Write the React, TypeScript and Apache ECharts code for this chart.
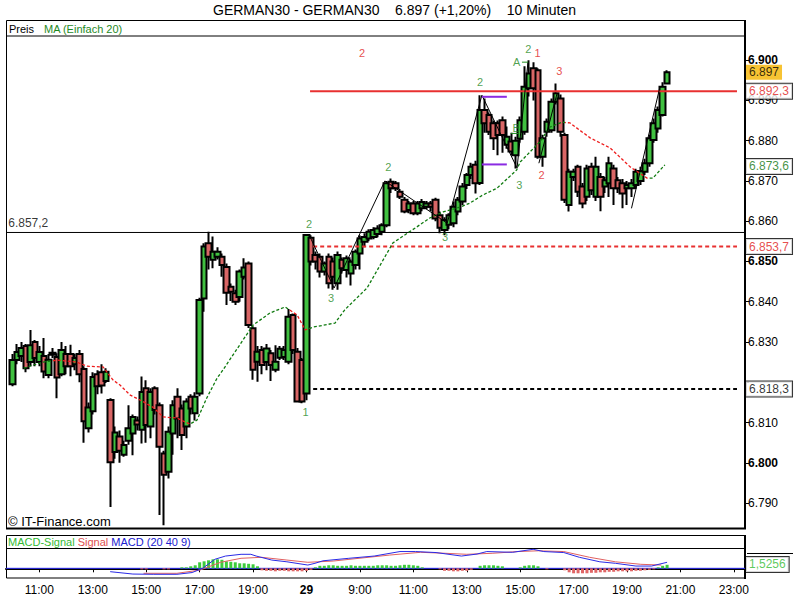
import React, { useEffect, useRef } from "react";
import * as echarts from "echarts";

const FONT = '"Liberation Sans", Arial, sans-serif';

// ---- candles: [open, close, low, high], first candle at slot FIRST_T (10-minute slots)
const FIRST_T = 6;
const CANDLES: number[][] = [
  [6819.5, 6825.5, 6819, 6827], [6825.5, 6827.5, 6824.5, 6829.5], [6826.5, 6828.5, 6825, 6830],
  [6829, 6823.5, 6822.5, 6829.5], [6825, 6829.2, 6824, 6833], [6830, 6826, 6824, 6830.5],
  [6825, 6827.5, 6824, 6829], [6826.5, 6822.7, 6821, 6831], [6821.8, 6825.6, 6821, 6827],
  [6826.8, 6827.3, 6826, 6828.5], [6826.3, 6821.2, 6816, 6827.2], [6822, 6828, 6821.5, 6830],
  [6827, 6824, 6822, 6829], [6827, 6824, 6821.5, 6829.3], [6824.5, 6826, 6823, 6827],
  [6827, 6822, 6820, 6828], [6823.3, 6810.3, 6805, 6824], [6808.6, 6813.7, 6807.5, 6815],
  [6812.8, 6821.3, 6812, 6822.5], [6822, 6819, 6817, 6823], [6822.5, 6819.2, 6817.2, 6824.5],
  [6820.3, 6822.6, 6819.8, 6823.5], [6815.6, 6800.1, 6789, 6816], [6802.7, 6807.5, 6801, 6809],
  [6806.5, 6803, 6800, 6808], [6802, 6804.4, 6801.5, 6805.5], [6805.5, 6808.6, 6804.5, 6814.3],
  [6807.3, 6811.4, 6801.9, 6812], [6810.5, 6809.5, 6808, 6811.5], [6808.2, 6817.6, 6804.8, 6821.4],
  [6818.5, 6809.4, 6805, 6820.5], [6809, 6817.6, 6806.1, 6818.5], [6818.5, 6813.1, 6812, 6819],
  [6814.3, 6804, 6787, 6815], [6802.3, 6797, 6784.5, 6803], [6797.8, 6807.7, 6796.1, 6809],
  [6807.3, 6814.3, 6802, 6815.5], [6816.4, 6811, 6806.1, 6818.5], [6813.5, 6806.9, 6803.2, 6814.5],
  [6809, 6815.2, 6806.1, 6816], [6816.4, 6813.5, 6812, 6817], [6812.3, 6816.4, 6810.5, 6817.5],
  [6817.2, 6840.4, 6816.5, 6841], [6840.8, 6853.7, 6837.5, 6854.5], [6854.5, 6851.2, 6848, 6857.4],
  [6850.4, 6852.4, 6848.3, 6856.2], [6851.2, 6852.4, 6850.5, 6853.5], [6851.2, 6849.1, 6846.2, 6852],
  [6848.6, 6842.2, 6839.2, 6849.5], [6843.7, 6842.5, 6840.2, 6844.5], [6842.1, 6840, 6839.2, 6843],
  [6841.2, 6847.5, 6840, 6848], [6846.2, 6848.5, 6845.5, 6850.8], [6849.5, 6834.2, 6833.5, 6850],
  [6833.4, 6823.1, 6820.6, 6834], [6825.1, 6827.6, 6820.1, 6829], [6828, 6824.3, 6822, 6829],
  [6825, 6828.4, 6823, 6829.5], [6827.2, 6824.3, 6820.3, 6828], [6823.1, 6825.1, 6822.5, 6829.2],
  [6826.1, 6828.3, 6825.5, 6829], [6826.3, 6828, 6825.5, 6829], [6825.1, 6836.3, 6824.5, 6838.2],
  [6836.7, 6828, 6827, 6837.1], [6827.6, 6815.2, 6815, 6828.5], [6825.5, 6815.2, 6814.8, 6826],
  [6817.2, 6856.6, 6815.5, 6856.8], [6855.9, 6850, 6849, 6856.5], [6851.6, 6850, 6848, 6852.5],
  [6851.2, 6847.5, 6846, 6852], [6847.5, 6849.5, 6846.5, 6850], [6851.2, 6844.6, 6843.3, 6852],
  [6850, 6846.2, 6843, 6851], [6844.6, 6851.6, 6843, 6852.5], [6850.4, 6848.3, 6847, 6851],
  [6847.9, 6850.8, 6846, 6851.5], [6847, 6849.9, 6844, 6850.5], [6849.1, 6852.4, 6848, 6853],
  [6852, 6855.7, 6848, 6856.5], [6854.9, 6856.1, 6853.5, 6857], [6855.7, 6857.4, 6855, 6858],
  [6856.1, 6857.8, 6855.5, 6858.5], [6856.8, 6858.2, 6856, 6859], [6857.4, 6859, 6856.5, 6859.5],
  [6859, 6869.4, 6858.5, 6870], [6869.8, 6868.2, 6867, 6870.6], [6869.4, 6868.2, 6867.5, 6870],
  [6867.3, 6866.1, 6865.5, 6868], [6865.3, 6862.4, 6862, 6866], [6862.8, 6864.4, 6862, 6865],
  [6864.4, 6862, 6861.5, 6865], [6862, 6864.4, 6861.5, 6865], [6863.2, 6864.8, 6862.5, 6865.5],
  [6863.6, 6864.4, 6863, 6865], [6864.4, 6863.6, 6862.5, 6865], [6865.3, 6860.7, 6860, 6865.8],
  [6861.5, 6858.4, 6857, 6862.4], [6857.8, 6860.3, 6856.5, 6861], [6859.1, 6861.5, 6858, 6862],
  [6859.5, 6863.6, 6858.5, 6864.9], [6862.4, 6865.3, 6861.5, 6866], [6864.9, 6868.6, 6864, 6869.5],
  [6869, 6871.5, 6868, 6872], [6871.5, 6873.5, 6870.5, 6874.5], [6874, 6869.4, 6866.9, 6875],
  [6869.5, 6887.6, 6869, 6891.3], [6887.6, 6884.3, 6882, 6890.5], [6886.4, 6882.2, 6881.4, 6887],
  [6884.3, 6880.6, 6877.7, 6885], [6884.3, 6881.4, 6876.4, 6885], [6885.1, 6881.4, 6877, 6886],
  [6879, 6881, 6878, 6883.5], [6879.8, 6877.3, 6876.4, 6882], [6876.4, 6880, 6873.1, 6881],
  [6880.5, 6885.1, 6879.5, 6886], [6882.2, 6893.4, 6881.5, 6898.5], [6893, 6896.7, 6891, 6900],
  [6898, 6893, 6890, 6899.5], [6897.5, 6876, 6875.5, 6898], [6876, 6880.6, 6873.5, 6881.5],
  [6882.2, 6884.7, 6881, 6885.5], [6882.6, 6889.7, 6882, 6890.5], [6889.7, 6891.8, 6889, 6894.2],
  [6890.5, 6882.2, 6881, 6891.5], [6881.4, 6865.3, 6864.5, 6882], [6864, 6872.3, 6862.4, 6873],
  [6871, 6872.3, 6870, 6873], [6873.5, 6867.3, 6866, 6874], [6868.6, 6864.4, 6863.2, 6869.5],
  [6866.1, 6873.1, 6865, 6874], [6873.5, 6867.7, 6866.5, 6874.5], [6866.1, 6873.5, 6865, 6876],
  [6871, 6866.1, 6862.5, 6872], [6868.6, 6870.2, 6867, 6871], [6869.4, 6874.4, 6866, 6876],
  [6873.1, 6868.2, 6864, 6874], [6870.2, 6868.2, 6867, 6871], [6869.4, 6866.9, 6863.2, 6870.5],
  [6868.2, 6869, 6864, 6870], [6868.2, 6869.4, 6866, 6870.5], [6869, 6872.3, 6868, 6873],
  [6870, 6872.5, 6869, 6873.5], [6872.3, 6874.4, 6871.5, 6875.5], [6874.4, 6880.6, 6873.5, 6881.5],
  [6880.2, 6884.3, 6879.5, 6885.5], [6883, 6887.6, 6882, 6888.5], [6886.4, 6893.4, 6886, 6894.5],
  [6894.2, 6897, 6894, 6897.5],
];

// ---- axes
const CAT_FIRST = 5;
const CAT_LAST = 170;
const X_MIN = 4.5;
const X_MAX = 170.5;
const TIME_LABELS: Record<number, string> = {
  12: "11:00", 24: "13:00", 36: "15:00", 48: "17:00", 60: "19:00", 72: "29", 84: "9:00",
  96: "11:00", 108: "13:00", 120: "15:00", 132: "17:00", 144: "19:00", 156: "21:00", 168: "23:00",
};
const DAY_T = 72;
const PRICE_TICKS = [6790, 6800, 6810, 6820, 6830, 6840, 6850, 6860, 6870, 6880, 6890, 6900];
// 6.820 is covered by the 6.818,3 box in the reference
const PRICE_LABELS = [6790, 6800, 6810, 6830, 6840, 6850, 6860, 6870, 6880, 6890, 6900];
const Y_MIN = 6783.8;
const Y_MAX = 6906;

// ---- MA (Einfach 20), read as [slot, value]
const MA_POINTS = [
  [8.5, 6823.5], [12.8, 6825.0], [16, 6825.5], [20.4, 6825.0], [22.7, 6824.0], [26.3, 6823.8],
  [28.5, 6820.6], [30.1, 6819.3], [32.4, 6816.8], [34.6, 6815.6], [37.5, 6813.8], [39.8, 6811.4],
  [42.9, 6811.1], [45.8, 6809.6], [47.4, 6810.6], [49.6, 6816.1], [51.9, 6821.0], [53.2, 6823.0],
  [55.5, 6826.8], [60, 6834.2], [63.8, 6837.2], [67.2, 6838.7], [69.9, 6836.7], [71.7, 6833.0],
  [73.5, 6833.7], [78.4, 6834.7], [80.6, 6838.0], [85.6, 6843.4], [91.4, 6854.6], [96.8, 6858.6],
  [99.7, 6860.8], [102.7, 6862.3], [106.5, 6863.5], [108.7, 6864.5], [111.6, 6866.5], [114.8, 6868.2],
  [119.2, 6872.7], [120, 6874.7], [124.4, 6879.7], [126.7, 6883.4], [129.4, 6884.6], [131.2, 6884.4],
  [135.7, 6880.7], [140.2, 6878.2], [144.7, 6873.5], [148.5, 6870.7], [149.8, 6870.7], [152.5, 6874.0],
];
const MA_FALLING = [[15, 46], [68, 72.5], [130, 149]];

// ---- levels
const PREV_CLOSE = 6857.2;
const LAST_PRICE = 6897;
const LAST_MA = 6873.6;
const RESISTANCE = 6892.3;
const SUPPORT_RED = 6853.7;
const SUPPORT_BLACK = 6818.3;
const LEVEL_START_RES = 72.8;
const LEVEL_START_SUP = 73.5;
const LEVEL_END = 168.7;

// ---- wave drawings
const ZIGZAG_MAIN = [[72.8, 6856.1], [78.2, 6843.4], [89.6, 6870.0], [103.6, 6859.5], [111.4, 6891.3], [119.3, 6873.2], [121.75, 6899.5]];
const ZIGZAG_RED = [[124.2, 6874.4], [128.3, 6891.8]];
const ZIGZAG_LAST = [[145.0, 6863.2], [151.4, 6893.4]];
const CHANNEL_TOP = [[111.4, 6890.9], [117, 6890.9]];
const CHANNEL_BOTTOM = [[111.4, 6874.1], [117, 6874.1]];
const A_MARK = [[120.4, 6899.5], [121.8, 6899.5]];
const B_MARK = [[117.9, 6881.8], [119.6, 6881.8]];
const WAVE_LABELS = [
  { t: 71.8, v: 6812.7, text: "1", c: "g" }, { t: 72.6, v: 6859.3, text: "2", c: "g" },
  { t: 77.5, v: 6840.9, text: "3", c: "g" }, { t: 90.4, v: 6873.5, text: "2", c: "g" },
  { t: 103.1, v: 6856.1, text: "3", c: "g" }, { t: 111, v: 6894.5, text: "2", c: "g" },
  { t: 119.8, v: 6869.0, text: "3", c: "g" }, { t: 121.8, v: 6902.7, text: "2", c: "g" },
  { t: 119.2, v: 6899.6, text: "A", c: "g" }, { t: 119.1, v: 6883.1, text: "B", c: "g" },
  { t: 84.5, v: 6901.9, text: "2", c: "r" }, { t: 123.9, v: 6901.9, text: "1", c: "r" },
  { t: 124.8, v: 6871.6, text: "2", c: "r" }, { t: 128.8, v: 6897.4, text: "3", c: "r" },
];

// ---- MACD (20 40 9)
const MACD_LINE = [
  [27.9, -1.35], [33.0, -2.3], [37.7, -2.4], [42.9, -2.4], [46.3, -1.7], [48.7, 0], [51.4, 3.6],
  [53.8, 4.9], [57.3, 5.6], [59.5, 5.6], [60.7, 4.9], [64.2, 3.3], [67.6, 2.6], [72.3, 1.3],
  [73.9, 2.0], [75.7, 3.0], [81.5, 4.0], [87.2, 4.9], [93.0, 6.7], [96.5, 6.7], [101.1, 6.3],
  [106.8, 4.9], [110.3, 5.7], [112.5, 6.7], [118.3, 6.4], [122.9, 7.6], [125.3, 6.7], [129.8, 6.3],
  [133.3, 4.4], [137.9, 2.6], [141.4, 2.0], [146.0, 0.9], [149.5, 0.9], [153, 2.4],
];
const SIGNAL_LINE = [
  [35.4, -2.0], [42.9, -2.0], [48.1, -0.7], [52.7, 2.4], [57.3, 4.0], [61.9, 4.4], [67.6, 3.3],
  [72.3, 2.4], [78.0, 2.9], [83.8, 4.0], [90.7, 5.3], [97.6, 6.4], [103.3, 6.0], [108.0, 5.6],
  [113.7, 6.0], [119.5, 6.7], [124.1, 7.0], [129.8, 6.7], [135.6, 4.4], [141.4, 2.6], [147.1, 1.6],
  [151.7, 1.3],
];
const HIST_FIRST_T = 28;
const HIST = [
  0, 0, 0, 0, 0, 0, 0,
  -0.4, -0.4, 0, 0, 0, -0.4, -0.4, 0, 0, 0.4,
  0.4, 0.8, 1.2, 2.4, 2.8, 3.2, 3.6, 3.6, 3.4, 2.8, 2.6, 2.4, 2.0, 2.0, 1.8, 1.6, 0.8,
  -0.8, -1.0, -1.0, -1.2, -1.0, -1.0, -1.2, -1.2, -1.2, -1.2, -1.0, -0.6, 0.4,
  1.0, 1.0, 1.2, 1.2, 1.0, 1.0, 1.0, 1.2, 1.0, 1.0, 1.0, 1.0, 1.0, 1.2, 1.2, 1.2, 1.0, 1.0, 1.2, 1.4, 1.4, 1.2, 1.0,
  0.4, 0, 0, 0, -0.4, -1.0, -1.0, -1.2, -1.2, -1.0, -1.0, -0.6, 0,
  1.0, 1.2, 1.2, 1.2, 1.0, 0.8, 0, 0, 0, 0.4, 1.0, 1.2, 1.2, 0.8, 0, -0.4, 0, 0, 0, -0.8,
  -1.6, -2.0, -2.0, -2.0, -2.0, -1.8, -1.8, -1.6, -1.6, -1.4, -1.4, -1.2, -1.2, -1.2, -1.2, -1.0, -1.0, -0.8, -0.6, -0.4, 0.4, 1.0, 1.4,
];
const MACD_HIST_LAST = 1.5256;
const MACD_MIN = -3.88;
const MACD_MAX = 8.12;

// ---- colours
const UP = "#40c040";
const DOWN = "#d96666";
const TXT_GREEN = "#1f8a1f";
const TXT_RED = "#e02020";
const MA_GREEN = "#0f7a0f";
const MA_RED = "#ee1c1c";

const fmtTick = (v: number) => {
  const r = Math.round(v);
  return `${Math.floor(r / 1000)}.${String(r % 1000).padStart(3, "0")}`;
};
const fmtLevel = (v: number) => {
  const tenths = Math.round(v * 10);
  const ip = Math.floor(tenths / 10);
  const dec = tenths % 10;
  return `${Math.floor(ip / 1000)}.${String(ip % 1000).padStart(3, "0")}${dec ? "," + dec : ""}`;
};

function buildOption() {
  const cats: string[] = [];
  for (let t = CAT_FIRST; t <= CAT_LAST; t++) cats.push(String(t));
  const candleData = CANDLES.map((c, i) => [i + FIRST_T - CAT_FIRST, c[0], c[1], c[2], c[3]]);
  const histData = HIST.map((h, i) => [i + HIST_FIRST_T - CAT_FIRST, h]);
  const labelInterval = (index: number) => TIME_LABELS[index + CAT_FIRST] !== undefined;

  const pieces: any[] = [];
  let prev = -1000;
  MA_FALLING.forEach(([a, b]) => {
    pieces.push({ gte: prev, lt: a, color: MA_GREEN });
    pieces.push({ gte: a, lt: b, color: MA_RED });
    prev = b;
  });
  pieces.push({ gte: prev, lt: 1000, color: MA_GREEN });

  const valLine = (data: number[][], color: string, width: number, type: any = "solid", z = 4) => ({
    type: "line", xAxisIndex: 1, yAxisIndex: 0, data, symbol: "none", silent: true, z,
    lineStyle: { color, width, type }, emphasis: { disabled: true },
  });

  const boxLabel = (value: number, text: string, color: string, bg: string, border: string | null) => ({
    value: [LEVEL_END, value],
    label: {
      show: true, position: "right", distance: 9, formatter: text, color, fontSize: 12, fontFamily: FONT,
      backgroundColor: bg, borderColor: border || bg, borderWidth: border ? 1 : 0, padding: [2, 3, 1, 3],
    },
  });

  const series: any[] = [
    {
      type: "candlestick", xAxisIndex: 0, yAxisIndex: 0, data: candleData, encode: { x: 0, y: [1, 2, 3, 4] },
      barWidth: 6, z: 3,
      itemStyle: { color: UP, color0: DOWN, borderColor: "#000", borderColor0: "#000", borderWidth: 2 },
      emphasis: { disabled: true },
    },
    {
      type: "line", xAxisIndex: 1, yAxisIndex: 0, data: MA_POINTS, symbol: "none", z: 5, silent: true,
      lineStyle: { width: 1.3, type: [3, 2] },
    },
    valLine([[X_MIN, PREV_CLOSE], [X_MAX, PREV_CLOSE]], "#000", 1, "solid", 2),
    valLine([[LEVEL_START_RES, RESISTANCE], [LEVEL_END, RESISTANCE]], "#e83030", 2),
    valLine([[LEVEL_START_SUP, SUPPORT_RED], [LEVEL_END, SUPPORT_RED]], "#e83030", 2, [4, 3]),
    valLine([[LEVEL_START_SUP, SUPPORT_BLACK], [LEVEL_END, SUPPORT_BLACK]], "#000", 2, [4, 3]),
    valLine(ZIGZAG_MAIN, "#000", 1, "solid", 6),
    valLine(ZIGZAG_RED, "#000", 1, "solid", 6),
    valLine(ZIGZAG_LAST, "#000", 1, "solid", 6),
    valLine(CHANNEL_TOP, "#8a2be2", 2, "solid", 6),
    valLine(CHANNEL_BOTTOM, "#8a2be2", 2, "solid", 6),
    valLine(A_MARK, TXT_GREEN, 1, "solid", 6),
    valLine(B_MARK, TXT_GREEN, 1, "solid", 6),
    {
      type: "scatter", xAxisIndex: 1, yAxisIndex: 0, symbolSize: 0, silent: true, z: 7,
      data: WAVE_LABELS.map((w) => ({
        value: [w.t, w.v],
        label: { show: true, position: "inside", formatter: w.text, color: w.c === "g" ? TXT_GREEN : TXT_RED, fontSize: 11, fontFamily: FONT },
      })),
    },
    {
      type: "scatter", xAxisIndex: 1, yAxisIndex: 0, symbolSize: 0, silent: true, z: 7,
      data: [{
        value: [X_MIN + 0.5, PREV_CLOSE],
        label: { show: true, position: [0, -15], align: "left", formatter: fmtLevel(PREV_CLOSE), color: "#000", fontSize: 12, fontFamily: FONT },
      }],
    },
    {
      type: "scatter", xAxisIndex: 1, yAxisIndex: 0, symbolSize: 0, silent: true, z: 10,
      data: [
        boxLabel(LAST_PRICE, fmtLevel(LAST_PRICE), "#000", "#f5b400", null),
        boxLabel(RESISTANCE, fmtLevel(RESISTANCE), TXT_RED, "#fff", "#000"),
        boxLabel(LAST_MA, fmtLevel(LAST_MA), "#117711", "#fff", "#000"),
        boxLabel(SUPPORT_RED, fmtLevel(SUPPORT_RED), TXT_RED, "#fff", "#000"),
        boxLabel(SUPPORT_BLACK, fmtLevel(SUPPORT_BLACK), "#000", "#fff", "#000"),
      ],
    },
    // MACD panel
    {
      type: "line", xAxisIndex: 3, yAxisIndex: 1, data: [[X_MIN, 0], [X_MAX, 0]], symbol: "none", silent: true,
      lineStyle: { color: "#3333ff", width: 1 }, z: 2,
    },
    {
      type: "bar", xAxisIndex: 2, yAxisIndex: 1, data: histData, barWidth: 3, silent: true, z: 3,
      itemStyle: { color: (p: any) => (p.value[1] >= 0 ? "#3ccc3c" : "#e06666") },
    },
    {
      type: "line", xAxisIndex: 3, yAxisIndex: 1, data: SIGNAL_LINE, symbol: "none", silent: true, z: 4,
      lineStyle: { color: "#e06060", width: 1 },
    },
    {
      type: "line", xAxisIndex: 3, yAxisIndex: 1, data: MACD_LINE, symbol: "none", silent: true, z: 5,
      lineStyle: { color: "#2a2ae6", width: 1 },
    },
    {
      type: "scatter", xAxisIndex: 3, yAxisIndex: 1, symbolSize: 0, silent: true, z: 10,
      data: [{
        value: [LEVEL_END, MACD_HIST_LAST],
        label: {
          show: true, position: "right", distance: 9, formatter: String(MACD_HIST_LAST).replace(".", ","),
          color: "#33bb33", fontSize: 12, fontFamily: FONT, backgroundColor: "#fff", borderColor: "#000", borderWidth: 1,
          padding: [2, 3, 1, 3],
        },
      }],
    },
  ];

  return {
    animation: false,
    backgroundColor: "#fff",
    textStyle: { fontFamily: FONT },
    grid: [
      { left: 6, right: 55, top: 36, height: 492 },
      { left: 6, right: 55, top: 548, height: 30 },
    ],
    xAxis: [
      { type: "category", gridIndex: 0, data: cats, show: false, boundaryGap: true },
      { type: "value", gridIndex: 0, min: X_MIN, max: X_MAX, show: false },
      {
        type: "category", gridIndex: 1, data: cats, boundaryGap: true,
        axisLine: { show: true, lineStyle: { color: "#000", width: 2 } },
        axisTick: { show: true, interval: labelInterval, alignWithLabel: true, length: 4, lineStyle: { color: "#000" } },
        axisLabel: {
          interval: labelInterval, color: "#000", fontSize: 12, fontFamily: FONT, margin: 6,
          formatter: (val: string) => (Number(val) === DAY_T ? `{b|${TIME_LABELS[DAY_T]}}` : TIME_LABELS[Number(val)]),
          rich: { b: { fontWeight: "bold", fontSize: 12, fontFamily: FONT, color: "#000" } },
        },
        splitLine: { show: false },
      },
      { type: "value", gridIndex: 1, min: X_MIN, max: X_MAX, show: false },
    ],
    yAxis: [
      {
        type: "value", gridIndex: 0, position: "right", min: Y_MIN, max: Y_MAX, scale: true,
        axisLine: { show: true, lineStyle: { color: "#000", width: 2 } },
        axisTick: { show: true, customValues: PRICE_TICKS, length: 4, lineStyle: { color: "#000" } },
        axisLabel: {
          customValues: PRICE_LABELS, color: "#000", fontSize: 12, fontFamily: FONT, margin: 3,
          formatter: (v: number) => (Math.round(v) % 50 === 0 ? `{b|${fmtTick(v)}}` : fmtTick(v)),
          rich: { b: { fontWeight: "bold", fontSize: 12, fontFamily: FONT, color: "#000" } },
        },
        splitLine: { show: false },
      },
      { type: "value", gridIndex: 1, min: MACD_MIN, max: MACD_MAX, show: false },
    ],
    visualMap: [{ type: "piecewise", show: false, dimension: 0, seriesIndex: 1, pieces }],
    series,
    graphic: [
      { type: "text", x: 213, y: 10, style: { text: "GERMAN30 - GERMAN30    6.897 (+1,20%)    10 Minuten", font: `14px ${FONT}`, fill: "#000", verticalAlign: "middle" } },
      { type: "rect", shape: { x: 6.5, y: 20.5, width: 738.5, height: 15.5 }, style: { fill: "none", stroke: "#000", lineWidth: 1 } },
      { type: "text", x: 9, y: 28.5, style: { text: "Preis", font: `11px ${FONT}`, fill: "#000", verticalAlign: "middle" } },
      { type: "text", x: 44, y: 28.5, style: { text: "MA (Einfach 20)", font: `11px ${FONT}`, fill: TXT_GREEN, verticalAlign: "middle" } },
      { type: "line", shape: { x1: 6.5, y1: 36, x2: 6.5, y2: 529 }, style: { stroke: "#000", lineWidth: 1 } },
      { type: "line", shape: { x1: 6, y1: 528.5, x2: 746, y2: 528.5 }, style: { stroke: "#000", lineWidth: 2 } },
      { type: "line", shape: { x1: 745, y1: 20, x2: 745, y2: 37 }, style: { stroke: "#000", lineWidth: 2 } },
      { type: "text", x: 8, y: 521, style: { text: "© IT-Finance.com", font: `13px ${FONT}`, fill: "#000", verticalAlign: "middle" } },
      { type: "rect", shape: { x: 6.5, y: 535.5, width: 738.5, height: 42.5 }, style: { fill: "none", stroke: "#000", lineWidth: 1 } },
      { type: "line", shape: { x1: 6.5, y1: 548.5, x2: 745, y2: 548.5 }, style: { stroke: "#000", lineWidth: 1 } },
      { type: "line", shape: { x1: 745, y1: 535, x2: 745, y2: 579 }, style: { stroke: "#000", lineWidth: 2 } },
      { type: "line", shape: { x1: 747, y1: 553.5, x2: 793, y2: 553.5 }, style: { stroke: "#000", lineWidth: 1 } },
      {
        type: "text", x: 8, y: 542,
        style: {
          text: "{a|MACD-Signal} {b|Signal} {c|MACD (20 40 9)}", verticalAlign: "middle", font: `11px ${FONT}`,
          rich: {
            a: { fill: "#33bb33", font: `11px ${FONT}` },
            b: { fill: "#e05050", font: `11px ${FONT}` },
            c: { fill: "#2020d0", font: `11px ${FONT}` },
          },
        },
      },
    ],
  };
}

export default function App() {
  const ref = useRef<HTMLDivElement>(null);
  useEffect(() => {
    if (!ref.current) return;
    const chart = echarts.init(ref.current, null, { renderer: "svg" });
    chart.setOption(buildOption() as any);
    return () => chart.dispose();
  }, []);
  return <div ref={ref} style={{ position: "absolute", left: 0, top: 0, width: 800, height: 600 }} />;
}
